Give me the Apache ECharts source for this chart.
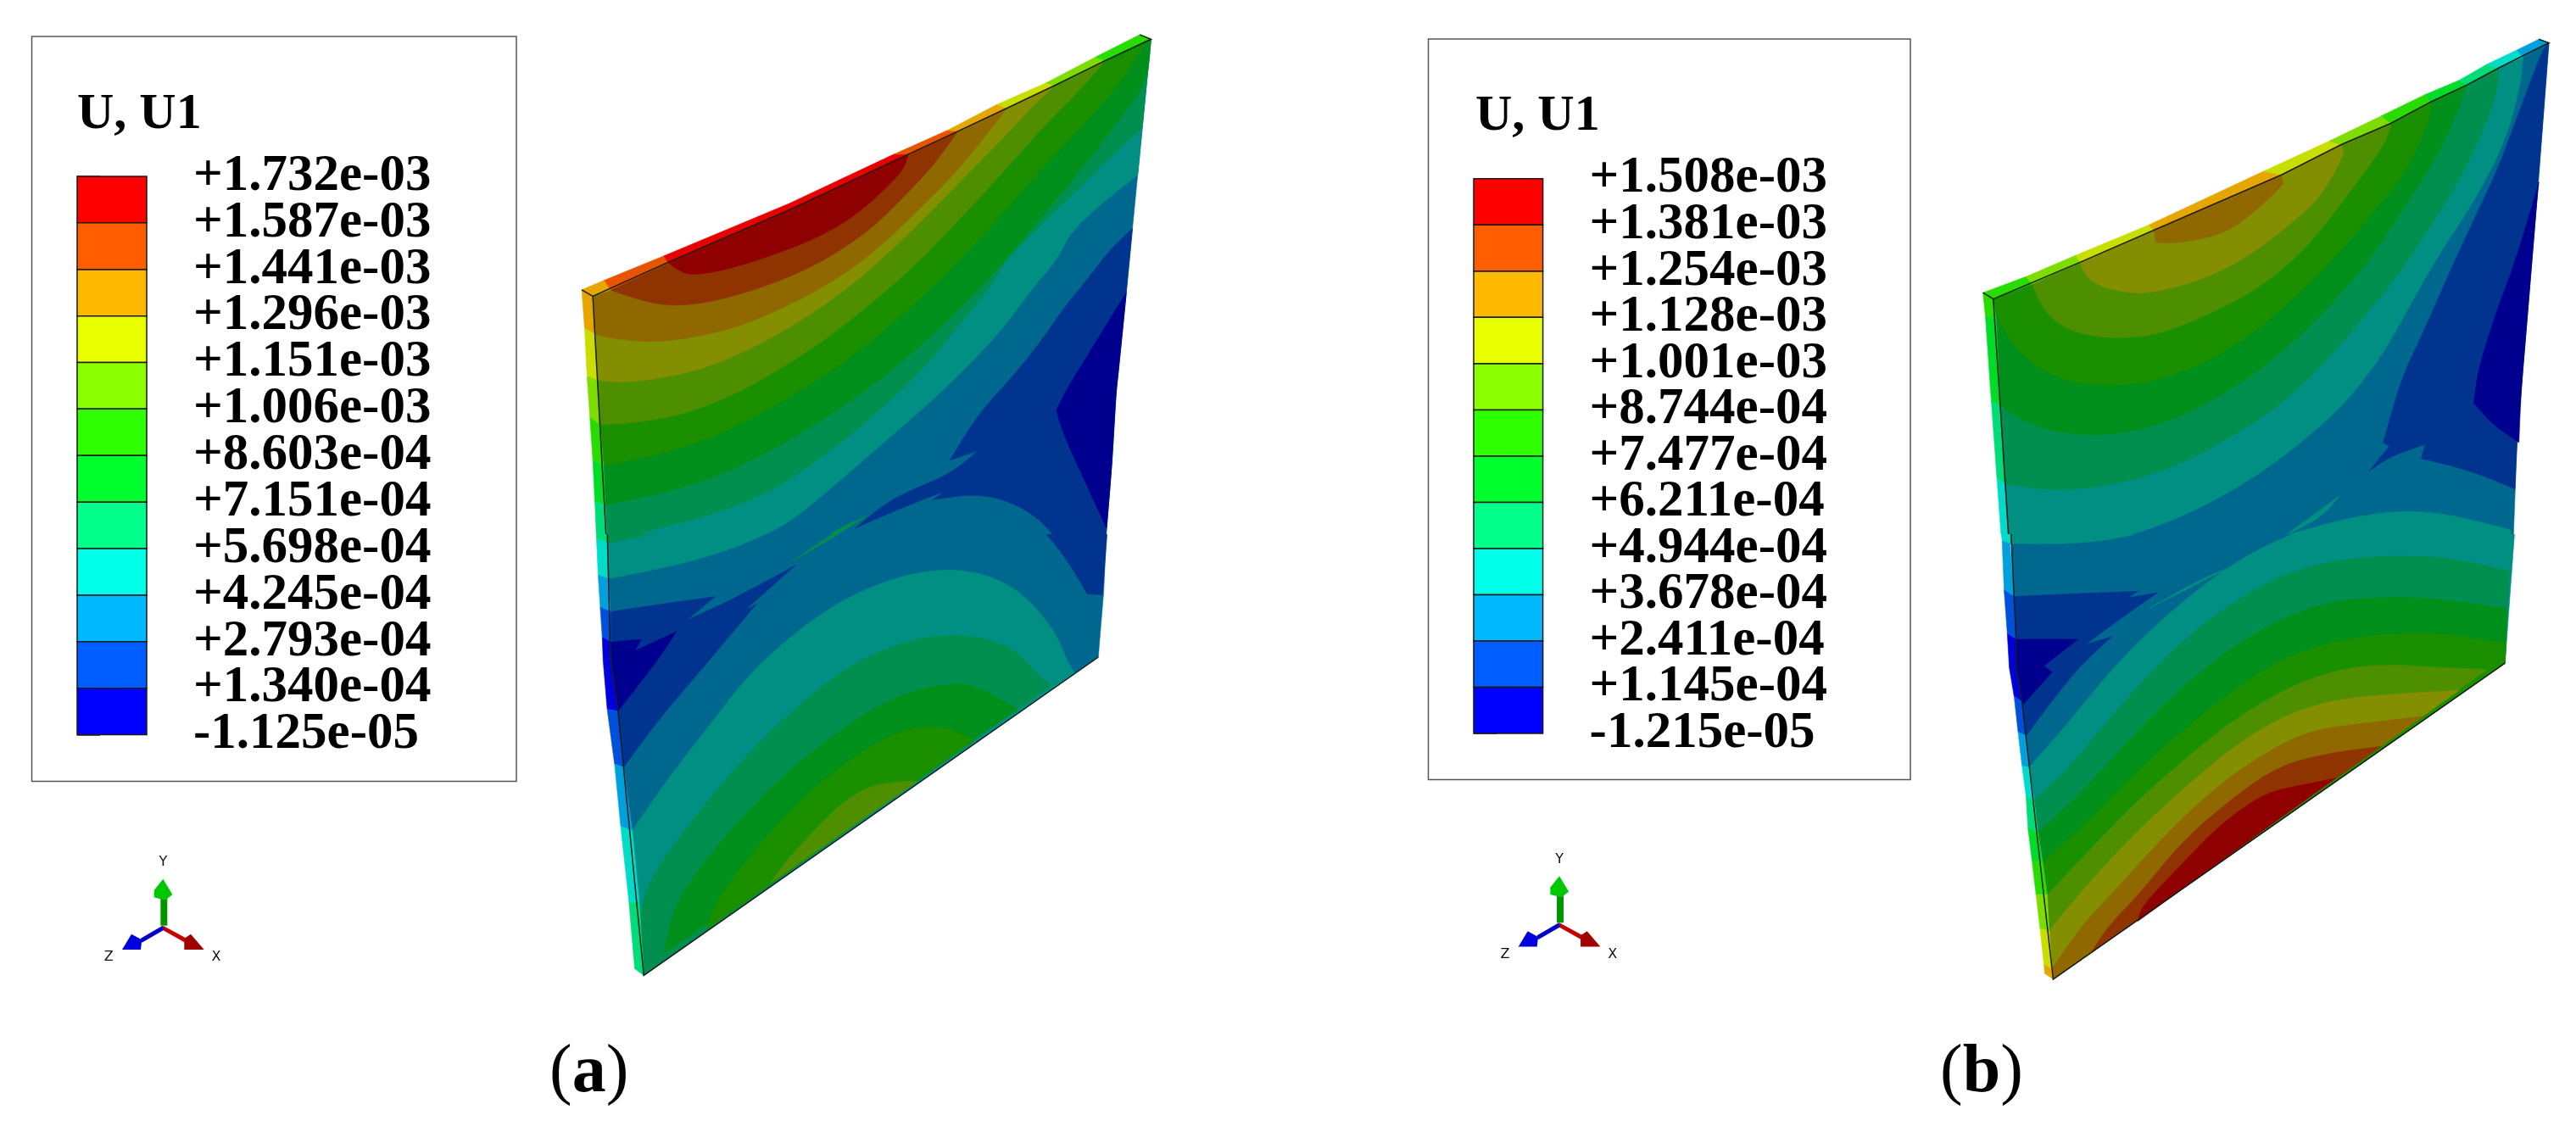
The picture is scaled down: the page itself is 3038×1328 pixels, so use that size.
<!DOCTYPE html>
<html>
<head>
<meta charset="utf-8">
<title>U1</title>
<style>
html, body { margin: 0; padding: 0; background: #fff; }
#main { width: 3038px; height: 1328px; }
</style>
<script src="https://cdn.jsdelivr.net/npm/echarts@6/dist/echarts.min.js"></script>
</head>
<body>
<div id="main"></div>
<script>
// legend levels, top to bottom
var levelsA = [1.732e-3, 1.587e-3, 1.441e-3, 1.296e-3, 1.151e-3, 1.006e-3, 8.603e-4, 7.151e-4, 5.698e-4, 4.245e-4, 2.793e-4, 1.340e-4, -1.125e-5];
var labelsA = ['+1.732e-03', '+1.587e-03', '+1.441e-03', '+1.296e-03', '+1.151e-03', '+1.006e-03', '+8.603e-04', '+7.151e-04', '+5.698e-04', '+4.245e-04', '+2.793e-04', '+1.340e-04', '-1.125e-05'];
var levelsB = [1.508e-3, 1.381e-3, 1.254e-3, 1.128e-3, 1.001e-3, 8.744e-4, 7.477e-4, 6.211e-4, 4.944e-4, 3.678e-4, 2.411e-4, 1.145e-4, -1.215e-5];
var labelsB = ['+1.508e-03', '+1.381e-03', '+1.254e-03', '+1.128e-03', '+1.001e-03', '+8.744e-04', '+7.477e-04', '+6.211e-04', '+4.944e-04', '+3.678e-04', '+2.411e-04', '+1.145e-04', '-1.215e-05'];

// contour palette: legend, shaded face, lit side
var legendColors = ['#ff0000', '#ff5d00', '#ffb900', '#e8ff00', '#8bff00', '#2eff00', '#00ff2e', '#00ff8b', '#00ffe8', '#00b9ff', '#005dff', '#0000ff'];
var faceColors = ['#8f0000', '#8f3400', '#8f6800', '#848f00', '#4e8f00', '#1a8f00', '#008f1a', '#008f4e', '#008f82', '#00688f', '#00348f', '#00008f'];
var sideColors = ['#e60000', '#e65400', '#e6a600', '#c8dd00', '#7ddc00', '#28dc00', '#00dc28', '#00dc78', '#00dcc8', '#00a0dc', '#0050dc', '#0000dc'];
var triadColors = ['#00c800', '#009600', '#c80000', '#a00000', '#0000c8', '#0000dc'];

// panel (a), upper part: contour bands as [band, outline], painted in order
var aTopBands = [
	[9, [[122,830],[1480,110],[1435,640],[1420,820],[1400,1050],[1395,1100],[1385,1300],[1372,1480],[1365,1600],[159,1600]]],
	[8, [[160,1622],[300,1590],[440,1547],[560,1489],[620,1447],[740,1330],[850,1220],[950,1120],[1040,1020],[1120,920],[1190,810],[1250,730],[1285,650],[1360,570],[1448,490],[1480,110],[122,830]]],
	[7, [[157,1520],[300,1475],[430,1435],[560,1375],[700,1265],[820,1150],[930,1030],[1020,900],[1080,820],[1120,740],[1170,680],[1240,600],[1320,510],[1400,420],[1458,358],[1480,110],[122,830]]],
	[6, [[152,1415],[280,1385],[400,1345],[520,1285],[650,1200],[780,1100],[900,990],[1010,870],[1110,750],[1220,600],[1320,460],[1400,340],[1472,228],[1480,110],[122,830]]],
	[5, [[148,1305],[260,1280],[380,1240],[500,1180],[620,1100],[740,1010],[860,900],[970,780],[1080,650],[1200,490],[1300,370],[1400,240],[1465,125],[122,830]]],
	[4, [[140,1190],[220,1185],[330,1165],[450,1115],[570,1040],[690,950],[800,850],[900,750],[1010,620],[1130,470],[1230,340],[1310,250],[1368,170],[122,830]]],
	[3, [[133,1065],[190,1072],[290,1060],[400,1030],[520,970],[640,890],[740,810],[840,710],[930,610],[1040,480],[1130,375],[1190,300],[1245,240],[122,830]]],
	[2, [[130,938],[180,950],[270,960],[370,945],[480,915],[590,860],[690,800],[780,730],[860,650],[930,570],[1000,490],[1075,385],[1130,303],[122,830]]],
	[1, [[165,812],[220,835],[290,855],[360,855],[450,835],[560,795],[660,745],[740,690],[810,630],[880,550],[950,465],[1010,368]]],
	[0, [[305,735],[340,765],[375,770],[450,755],[560,715],[660,670],[740,620],[800,565],[850,510],[880,470],[890,432]]],
	[7, [[610,1565],[700,1510],[790,1445],[720,1480]]],
	[10, [[1435,640],[1380,700],[1320,790],[1270,860],[1210,960],[1140,1060],[1060,1160],[990,1290],[1060,1262],[990,1330],[850,1395],[760,1480],[880,1420],[975,1378],[950,1400],[1040,1385],[1110,1395],[1180,1430],[1240,1490],[1280,1568],[1365,1600],[1372,1480],[1385,1300],[1395,1100],[1400,1050],[1420,820]]],
	[11, [[1420,820],[1350,950],[1270,1100],[1250,1150],[1265,1210],[1300,1300],[1340,1400],[1372,1480],[1385,1300],[1395,1100],[1400,1050]]]
];
var aTopStrip = [
	[2,[95,812],[122,830]],[1,[150,785],[165,812]],[0,[295,717],[305,735]],[0,[600,570],[610,583]],[1,[855,432],[890,432]],
	[2,[985,365],[1010,368]],[3,[1105,293],[1130,303]],[4,[1225,232],[1245,240]],[5,[1345,160],[1368,170]],[5,[1453,97],[1480,110]]
];
var aLeftTopStrip = [
	[2,[95,812],[122,830]],[3,[102,920],[125,935]],[4,[108,1055],[133,1065]],[5,[115,1170],[140,1190]],[6,[122,1290],[148,1305]],
	[7,[127,1405],[152,1415]],[8,[131,1510],[157,1520]],[8,[135,1600],[159,1600]]
];
var aTopEdges = [
	[[95,812],[122,830],[305,735],[610,583],[890,432],[1010,368],[1130,303],[1245,240],[1368,170],[1480,110],[1453,97]],
	[[122,830],[159,1600]]
];

// panel (a), lower part
var aBottomBands = [
	[9, [[155,-30],[1380,-30],[1378,0],[1372,50],[1365,220],[1355,350],[1352,392],[246,1233],[183,530],[165,395]]],
	[8, [[160,185],[300,155],[440,115],[560,60],[620,20],[680,-30],[155,-30]]],
	[7, [[160,90],[300,60],[450,5],[470,-30],[155,-30]]],
	[7, [[605,140],[700,80],[795,20],[720,55]]],
	[10, [[1165,0],[1230,70],[1285,150],[1325,225],[1362,228],[1378,0]]],
	[11, [[1350,-5],[1372,50],[1378,0]]],
	[10, [[165,272],[300,250],[420,232],[350,295],[460,240],[615,150],[490,270],[520,252],[390,420],[280,560],[197,683],[183,530],[165,395]]],
	[11, [[167,352],[240,345],[225,375],[325,325],[280,400],[230,470],[183,535],[165,395]]],
	[8, [[218,850],[300,720],[400,580],[500,440],[600,340],[700,260],[800,205],[900,170],[1000,158],[1100,180],[1180,235],[1250,330],[1275,400],[1295,435],[246,1233]]],
	[7, [[235,1040],[290,930],[380,800],[480,670],[590,550],[700,450],[800,385],[900,345],[1000,332],[1090,345],[1150,375],[1190,420],[1215,450],[1240,465],[246,1233]]],
	[6, [[295,1175],[320,1050],[380,950],[480,820],[590,700],[700,605],[800,530],[900,480],[1000,460],[1060,470],[1100,495],[1155,530]]],
	[5, [[400,1110],[420,1040],[500,920],[600,800],[700,700],[800,625],[880,585],[950,572],[1010,590],[1050,612]]],
	[4, [[555,988],[600,920],[670,840],[730,775],[800,730],[880,720],[912,720]]]
];
var aBottomStrip = [
	[7,[128,-30],[154,-30]],[8,[131,80],[157,90]],[9,[135,175],[160,185]],[10,[140,260],[165,272]],[11,[145,340],[165,352]],
	[11,[147,400],[165,395]],[10,[157,530],[183,535]],[9,[175,675],[197,683]],[8,[190,840],[218,850]],[7,[210,1040],[235,1040]],[7,[224,1215],[246,1233]]
];
var aBottomEdges = [
	[[155,-30],[165,395],[183,530],[246,1233],[1352,392]]
];

// panel (b), upper part
var bTopBands = [
	[9, [[108,838],[1500,120],[1470,560],[1445,900],[1430,1100],[1420,1240],[1408,1600],[152,1600]]],
	[8, [[840,1500],[1000,1450],[1130,1430],[1250,1440],[1405,1485],[1408,1600],[840,1600]]],
	[8, [[145,1525],[300,1520],[430,1510],[600,1440],[760,1340],[880,1240],[990,1130],[1080,1000],[1140,880],[1220,720],[1310,570],[1390,400],[1430,235],[1435,160],[108,838]]],
	[7, [[135,1355],[250,1375],[380,1365],[540,1320],[680,1240],[810,1150],[920,1040],[1020,910],[1110,790],[1200,640],[1290,480],[1370,270],[1375,190],[108,838]]],
	[6, [[125,1135],[180,1180],[280,1215],[400,1220],[530,1190],[680,1110],[820,1000],[950,860],[1050,730],[1150,560],[1240,400],[1295,240],[108,838]]],
	[5, [[118,890],[130,920],[190,1010],[290,1070],[420,1085],[560,1055],[700,980],[830,870],[950,740],[1050,610],[1150,470],[1205,320],[1205,285],[108,838]]],
	[4, [[205,795],[225,850],[260,900],[320,935],[420,950],[530,935],[650,880],[770,810],[880,710],[960,600],[1040,480],[1090,400],[1105,345]]],
	[3, [[325,735],[340,775],[380,805],[470,825],[570,805],[680,760],[770,700],[850,630],[920,560],[960,490],[985,430],[980,405]]],
	[2, [[510,645],[515,680],[560,682],[640,668],[700,645],[750,605],[800,555],[835,515],[830,490]]],
	[8, [[840,1500],[975,1390],[930,1450]]],
	[10, [[1490,130],[1470,180],[1420,330],[1370,480],[1310,620],[1240,790],[1190,920],[1130,1060],[1085,1240],[1100,1250],[1050,1320],[1100,1280],[1190,1245],[1180,1285],[1240,1300],[1330,1330],[1415,1370],[1420,1240],[1430,1100],[1445,900],[1470,560],[1500,120]]],
	[11, [[1475,510],[1420,720],[1360,900],[1320,1050],[1312,1130],[1360,1190],[1425,1240],[1430,1100],[1445,900],[1470,560]]]
];
var bTopStrip = [
	[5,[82,820],[108,838]],[4,[190,775],[205,795]],[3,[315,715],[325,735]],[2,[498,630],[510,645]],[3,[785,480],[830,490]],
	[4,[950,395],[980,405]],[5,[1080,325],[1105,345]],[6,[1190,265],[1205,285]],[7,[1275,225],[1295,238]],[8,[1345,180],[1375,190]],
	[9,[1420,140],[1435,160]],[9,[1475,110],[1500,120]]
];
var bLeftTopStrip = [
	[5,[82,820],[108,838]],[6,[88,885],[115,895]],[7,[103,1125],[125,1135]],[8,[117,1340],[135,1355]],[9,[128,1510],[145,1525]],[9,[130,1600],[152,1600]]
];
var bTopEdges = [
	[[82,820],[108,838],[325,735],[510,645],[830,490],[980,405],[1105,345],[1205,285],[1295,238],[1375,190],[1500,120],[1475,110]],
	[[108,838],[152,1600]]
];

// panel (b), lower part
var bBottomBands = [
	[9, [[148,-30],[1420,-30],[1415,0],[1400,170],[1390,408],[258,1243],[180,510],[165,420],[165,345]]],
	[8, [[150,92],[300,93],[420,80],[560,40],[680,-30],[148,-30]]],
	[10, [[160,232],[300,225],[470,218],[445,235],[520,222],[440,280],[340,358],[405,338],[330,410],[260,500],[190,600],[180,510],[165,420]]],
	[11, [[165,345],[320,345],[235,415],[255,432],[180,520],[165,420]]],
	[8, [[198,683],[300,560],[400,430],[520,300],[690,155],[840,70],[1000,22],[1130,4],[1250,14],[1415,50],[1390,408],[258,1243]]],
	[8, [[495,265],[710,150],[620,190]]],
	[7, [[210,770],[300,680],[410,540],[530,400],[650,290],[780,200],[900,150],[1050,125],[1200,125],[1300,140],[1400,165],[1390,408],[258,1243]]],
	[6, [[220,855],[320,760],[440,620],[560,490],[700,370],[830,290],[950,245],[1100,232],[1250,240],[1395,265],[1390,408],[258,1243]]],
	[5, [[232,935],[350,820],[470,690],[600,570],[720,470],[850,385],[1000,340],[1180,325],[1300,340],[1392,355],[1390,408],[258,1243]]],
	[4, [[243,1020],[350,900],[470,770],[600,650],[720,550],[850,470],[970,425],[1090,410],[1230,420],[1345,425],[258,1243]]],
	[3, [[248,1115],[350,985],[470,850],[600,725],[720,620],[840,545],[960,505],[1100,490],[1275,480],[258,1243]]],
	[2, [[255,1215],[330,1100],[420,1000],[540,860],[660,740],[780,650],[900,585],[1050,565],[1185,548],[258,1243]]],
	[1, [[355,1170],[390,1110],[480,1010],[580,880],[700,770],[820,680],[950,645],[1080,628]]],
	[0, [[470,1090],[480,1050],[570,950],[680,830],[790,750],[880,730],[965,712]]]
];
var bBottomStrip = [
	[8,[118,-30],[148,-30]],[9,[130,85],[150,92]],[10,[135,215],[160,232]],[11,[143,330],[165,345]],[11,[148,420],[165,420]],
	[10,[160,495],[180,510]],[9,[170,590],[190,600]],[8,[180,680],[198,683]],[7,[190,760],[210,770]],[6,[195,845],[220,855]],
	[5,[205,930],[232,935]],[4,[215,1020],[243,1020]],[3,[225,1110],[248,1115]],[2,[235,1205],[255,1215]],[2,[237,1228],[258,1243]]
];
var bBottomEdges = [
	[[148,-30],[165,345],[165,420],[180,510],[258,1243],[1390,408]]
];

// orientation triad
var triadShapes = [
	[1, [[328,240],[352,240],[352,335],[328,335]]],
	[0, [[337,170],[370,225],[345,245],[305,235],[305,210]]],
	[2, [[337,335],[420,380],[415,395],[335,350]]],
	[3, [[435,365],[482,420],[412,420],[412,380]]],
	[4, [[335,335],[258,380],[262,395],[340,350]]],
	[5, [[225,365],[262,385],[258,420],[192,420]]]
];
var triadLabels = [['Y', 337, 112], ['Z', 145, 447], ['X', 525, 447]];

var serifFont = '"Liberation Serif", "Times New Roman", serif';

// hidden axes, the traced outlines go through these scales
function hiddenX(gridIndex, min, max) {
	return { type: 'value', gridIndex: gridIndex, min: min, max: max, show: false };
}
function hiddenY(gridIndex, min, max) {
	return { type: 'value', gridIndex: gridIndex, min: min, max: max, inverse: true, show: false };
}

// turn [color, outer, inner] rows into quads between neighbouring rows
function stripQuads(rows) {
	var out = [];
	for (var i = 0; i < rows.length - 1; i++) {
		out.push([rows[i][0], [rows[i][1], rows[i + 1][1], rows[i + 1][2], rows[i][2]]]);
	}
	return out;
}

// round off soft bends of an outline, real corners stay sharp
function roundOutline(pts) {
	var cur = pts;
	for (var pass = 0; pass < 3; pass++) {
		var next = [];
		for (var i = 0; i < cur.length; i++) {
			var p = cur[(i + cur.length - 1) % cur.length], c = cur[i], n = cur[(i + 1) % cur.length];
			var a1 = Math.atan2(c[1] - p[1], c[0] - p[0]), a2 = Math.atan2(n[1] - c[1], n[0] - c[0]);
			var turn = Math.abs(a2 - a1);
			if (turn > Math.PI) { turn = 2 * Math.PI - turn; }
			if (turn > 0.6) {
				next.push(c);
			} else {
				next.push([c[0] * 0.75 + p[0] * 0.25, c[1] * 0.75 + p[1] * 0.25]);
				next.push([c[0] * 0.75 + n[0] * 0.25, c[1] * 0.75 + n[1] * 0.25]);
			}
		}
		cur = next;
	}
	return cur;
}

function shapeSeries(gridIndex, bands, strips, edges) {
	var items = [];
	// the first band is the whole face, its outline is left as traced
	bands.forEach(function(b, i) { items.push({ color: faceColors[b[0]], pts: b[1], soft: i > 0 }); });
	strips.forEach(function(rows) {
		stripQuads(rows).forEach(function(q) { items.push({ color: sideColors[q[0]], pts: q[1] }); });
	});
	edges.forEach(function(e) { items.push({ line: true, pts: e }); });
	return {
		type: 'custom',
		xAxisIndex: gridIndex,
		yAxisIndex: gridIndex,
		coordinateSystem: 'cartesian2d',
		clip: true,
		silent: true,
		data: items.map(function(it, i) { return [i]; }),
		renderItem: function(params, api) {
			var it = items[params.dataIndex];
			var pts = it.pts.map(function(p) { return api.coord(p); });
			if (it.line) {
				return { type: 'polyline', shape: { points: pts }, style: { stroke: '#1c1c1c', lineWidth: 1.5, fill: null } };
			}
			if (it.soft) { pts = roundOutline(pts); }
			return { type: 'polygon', shape: { points: pts }, style: { fill: it.color, stroke: it.color, lineWidth: 0.6 } };
		}
	};
}

function triadSeries(gridIndex) {
	var count = triadShapes.length + triadLabels.length;
	var data = [];
	for (var i = 0; i < count; i++) { data.push([i]); }
	return {
		type: 'custom',
		xAxisIndex: gridIndex,
		yAxisIndex: gridIndex,
		coordinateSystem: 'cartesian2d',
		silent: true,
		data: data,
		renderItem: function(params, api) {
			var i = params.dataIndex;
			if (i < triadShapes.length) {
				return {
					type: 'polygon',
					shape: { points: triadShapes[i][1].map(function(p) { return api.coord(p); }) },
					style: { fill: triadColors[triadShapes[i][0]] }
				};
			}
			var t = triadLabels[i - triadShapes.length];
			var c = api.coord([t[1], t[2]]);
			return {
				type: 'text',
				x: c[0],
				y: c[1],
				style: { text: t[0], fontFamily: '"DejaVu Sans"', fontSize: 16, fill: '#111', align: 'center', verticalAlign: 'middle' }
			};
		}
	};
}

function legendSeries(gridIndex, levels) {
	var data = [];
	for (var i = 0; i < legendColors.length; i++) {
		data.push([0, 1, levels[i + 1], levels[i]]);
	}
	return {
		type: 'custom',
		xAxisIndex: gridIndex,
		yAxisIndex: gridIndex,
		coordinateSystem: 'cartesian2d',
		silent: true,
		encode: { x: [0, 1], y: [2, 3] },
		data: data,
		renderItem: function(params, api) {
			var a = api.coord([api.value(0), api.value(3)]);
			var b = api.coord([api.value(1), api.value(2)]);
			return {
				type: 'rect',
				shape: { x: a[0], y: a[1], width: b[0] - a[0], height: b[1] - a[1] },
				style: { fill: legendColors[params.dataIndex], stroke: '#1a1a1a', lineWidth: 1.5 }
			};
		}
	};
}

// level labels: the axis drops labels this tightly packed, so they are drawn here
function legendLabelSeries(gridIndex, levels, labels) {
	return {
		type: 'custom',
		xAxisIndex: gridIndex,
		yAxisIndex: gridIndex,
		coordinateSystem: 'cartesian2d',
		silent: true,
		clip: false,
		encode: { x: 0, y: 1 },
		data: levels.map(function(v) { return [1, v]; }),
		renderItem: function(params, api) {
			var c = api.coord([api.value(0), api.value(1)]);
			return {
				type: 'text',
				x: c[0] + 55,
				y: c[1],
				style: {
					text: labels[params.dataIndex],
					fontFamily: serifFont,
					fontWeight: 'bold',
					fontSize: 61,
					fill: '#000',
					align: 'left',
					verticalAlign: 'middle'
				}
			};
		}
	};
}

function legendY(gridIndex, levels) {
	return {
		type: 'value',
		gridIndex: gridIndex,
		position: 'right',
		min: levels[levels.length - 1],
		max: levels[0],
		axisLine: { show: false },
		splitLine: { show: false },
		axisTick: { show: true, length: 27, customValues: levels, lineStyle: { color: '#333', width: 1.5 } },
		axisLabel: { show: false }
	};
}

var option = {
	backgroundColor: '#fff',
	animation: false,
	title: [
		{ text: 'U, U1', left: 91, top: 105, padding: 0, textStyle: { fontFamily: serifFont, fontWeight: 'bold', fontSize: 60, color: '#000' } },
		{ text: 'U, U1', left: 1740, top: 107, padding: 0, textStyle: { fontFamily: serifFont, fontWeight: 'bold', fontSize: 60, color: '#000' } },
		{
			text: '{p|(}{b|a}{p|)}', left: 648, top: 1226, padding: 0,
			textStyle: { fontWeight: 'normal', rich: {
				p: { fontFamily: serifFont, fontSize: 80, fontWeight: 'normal', color: '#000' },
				b: { fontFamily: serifFont, fontSize: 80, fontWeight: 'bold', color: '#000' }
			} }
		},
		{
			text: '{p|(}{b|b}{p|)}', left: 2288, top: 1226, padding: 0,
			textStyle: { fontWeight: 'normal', rich: {
				p: { fontFamily: serifFont, fontSize: 80, fontWeight: 'normal', color: '#000' },
				b: { fontFamily: serifFont, fontSize: 80, fontWeight: 'bold', color: '#000' }
			} }
		}
	],
	grid: [
		{ left: 91, top: 208, width: 82, height: 658.5 },
		{ left: 1738, top: 210.7, width: 81.6, height: 654.3 },
		{ left: 640, top: 0, width: 760, height: 630 },
		{ left: 640, top: 630, width: 760, height: 670 },
		{ left: 2300, top: 0, width: 738, height: 630 },
		{ left: 2300, top: 630, width: 738, height: 670 },
		{ left: 80, top: 980, width: 240, height: 180 },
		{ left: 1726.7, top: 976.6, width: 240, height: 180 }
	],
	xAxis: [
		hiddenX(0, 0, 1), hiddenX(1, 0, 1),
		hiddenX(2, 0, 1568), hiddenX(3, 0, 1568), hiddenX(4, 0, 1568), hiddenX(5, 0, 1568),
		hiddenX(6, 0, 720), hiddenX(7, 0, 720)
	],
	yAxis: [
		legendY(0, levelsA), legendY(1, levelsB),
		hiddenY(2, 0, 1496.7), hiddenY(3, 67.2, 1568), hiddenY(4, 0, 1496.7), hiddenY(5, 67.2, 1568),
		hiddenY(6, 0, 540), hiddenY(7, 0, 540)
	],
	graphic: [
		{ type: 'rect', shape: { x: 37.5, y: 43, width: 571.5, height: 878.5 }, style: { fill: '#fff', stroke: '#555', lineWidth: 1.5 }, z: -1 },
		{ type: 'rect', shape: { x: 1684.5, y: 46, width: 568.5, height: 873.5 }, style: { fill: '#fff', stroke: '#555', lineWidth: 1.5 }, z: -1 }
	],
	series: [
		legendSeries(0, levelsA),
		legendSeries(1, levelsB),
		legendLabelSeries(0, levelsA, labelsA),
		legendLabelSeries(1, levelsB, labelsB),
		shapeSeries(2, aTopBands, [aTopStrip, aLeftTopStrip], aTopEdges),
		shapeSeries(3, aBottomBands, [aBottomStrip], aBottomEdges),
		shapeSeries(4, bTopBands, [bTopStrip, bLeftTopStrip], bTopEdges),
		shapeSeries(5, bBottomBands, [bBottomStrip], bBottomEdges),
		triadSeries(6),
		triadSeries(7)
	]
};

var myChart = echarts.init(document.getElementById('main'));
myChart.setOption(option);
</script>
</body>
</html>
